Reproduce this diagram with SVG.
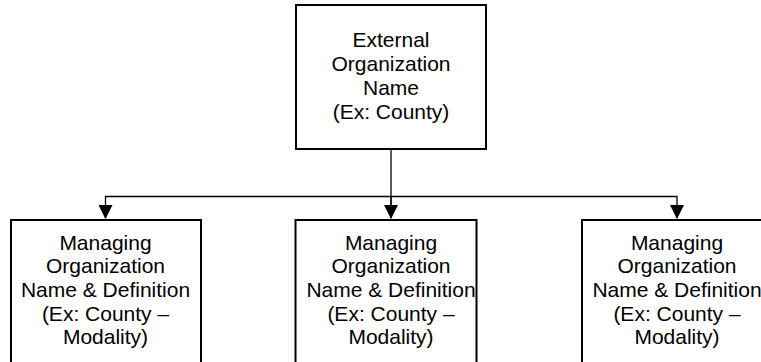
<svg xmlns="http://www.w3.org/2000/svg" width="761" height="362" viewBox="0 0 761 362">
<style>
.box{fill:#fff;stroke:#000;stroke-width:2}
.t{font-family:"Liberation Sans",Arial,sans-serif;font-size:21px;fill:#000;text-anchor:middle}
.c{fill:none;stroke:#000;stroke-width:1.3}
</style>
<defs>
<marker id="arr" markerUnits="userSpaceOnUse" markerWidth="14" markerHeight="14" refX="12" refY="6.5" orient="auto" viewBox="0 0 13 13">
<path d="M0,0 L13,6.5 L0,13 Z" fill="#000"/>
</marker>
</defs>
<g id="connectors">
<path class="c" d="M391,149 V218"/>
<path class="c" d="M105.5,218 V196.5 H677 V218"/>
<path class="c" d="M391,196.5 V218" marker-end="url(#arr)"/>
<path class="c" d="M105.5,205 V218" marker-end="url(#arr)"/>
<path class="c" d="M677,205 V218" marker-end="url(#arr)"/>
</g>
<g id="top">
<rect class="box" x="296" y="5" width="190" height="144"/>
<text class="t"><tspan x="391" y="47">External</tspan><tspan x="391" y="71">Organization</tspan><tspan x="391" y="95">Name</tspan><tspan x="391" y="119">(Ex: County)</tspan></text>
</g>
<g id="left">
<rect class="box" x="11" y="220" width="190" height="143"/>
<text class="t"><tspan x="105.5" y="249.5">Managing</tspan><tspan x="105.5" y="273">Organization</tspan><tspan x="105.5" y="297">Name &amp; Definition</tspan><tspan x="105.5" y="320.5">(Ex: County –</tspan><tspan x="105.5" y="344">Modality)</tspan></text>
</g>
<g id="middle">
<rect class="box" x="295.5" y="220" width="181" height="143"/>
<text class="t"><tspan x="391" y="249.5">Managing</tspan><tspan x="391" y="273">Organization</tspan><tspan x="391" y="297">Name &amp; Definition</tspan><tspan x="391" y="320.5">(Ex: County –</tspan><tspan x="391" y="344">Modality)</tspan></text>
</g>
<g id="right">
<rect class="box" x="582" y="220" width="190" height="143"/>
<text class="t"><tspan x="677" y="249.5">Managing</tspan><tspan x="677" y="273">Organization</tspan><tspan x="677" y="297">Name &amp; Definition</tspan><tspan x="677" y="320.5">(Ex: County –</tspan><tspan x="677" y="344">Modality)</tspan></text>
</g>
</svg>
